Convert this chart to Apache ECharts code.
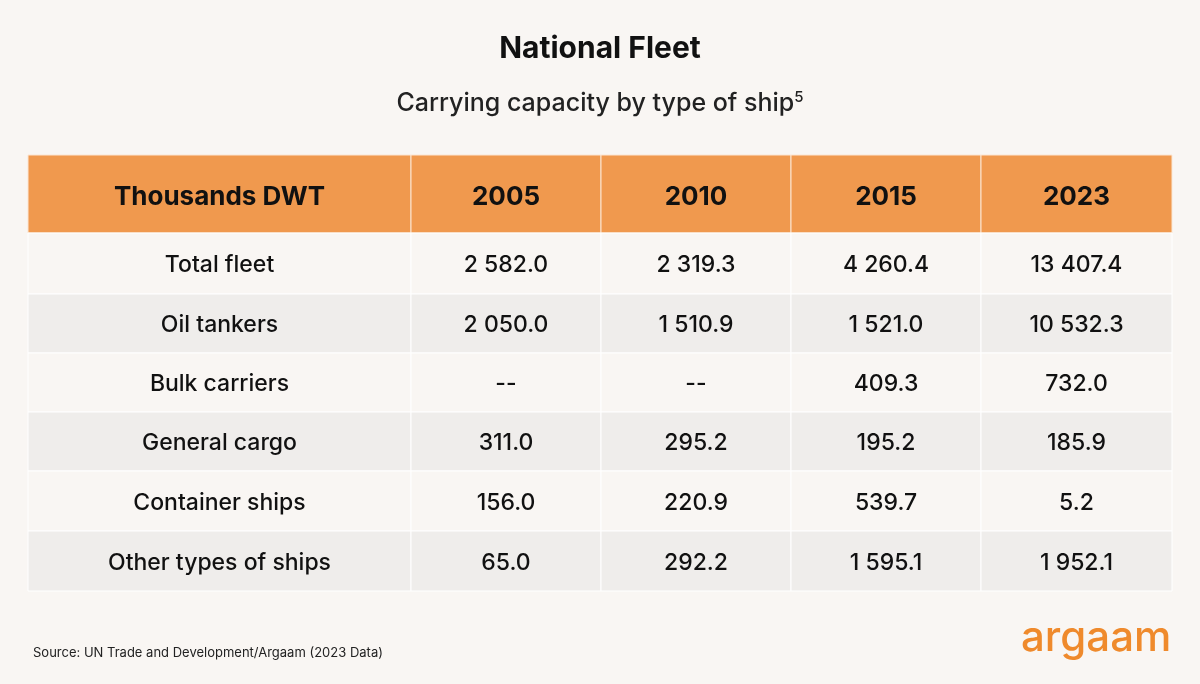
<!DOCTYPE html>
<html><head><meta charset="utf-8">
<script src="https://cdn.jsdelivr.net/npm/echarts@6/dist/echarts.min.js"></script>
<style>html,body{margin:0;background:#f9f6f3}#c{width:1200px;height:684px}</style>
</head><body><div id="c"></div>
<script>
var headers = ['Thousands DWT', '2005', '2010', '2015', '2023'];
var categories = ['Total fleet', 'Oil tankers', 'Bulk carriers', 'General cargo', 'Container ships', 'Other types of ships'];
var y2005 = ['2 582.0', '2 050.0', '--', '311.0', '156.0', '65.0'];
var y2010 = ['2 319.3', '1 510.9', '--', '295.2', '220.9', '292.2'];
var y2015 = ['4 260.4', '1 521.0', '409.3', '195.2', '539.7', '1 595.1'];
var y2023 = ['13 407.4', '10 532.3', '732.0', '185.9', '5.2', '1 952.1'];

// layout (px from table top-left)
var colEdges = [0, 383, 573, 763, 953, 1144];
var rowEdges = [0, 78, 139, 198, 257, 316, 376, 436];

var cells = [];
headers.forEach(function (h, c) { cells.push([c, 0, h]); });
var cols = [categories, y2005, y2010, y2015, y2023];
categories.forEach(function (_, r) {
  cols.forEach(function (arr, c) { cells.push([c, r + 1, arr[r]]); });
});

var chart = echarts.init(document.getElementById('c'));
chart.setOption({
  backgroundColor: '#f9f6f3',
  title: [
    {text: 'National Fleet', left: 'center', top: 29, textStyle: {fontFamily: 'Inter', fontSize: 30, fontWeight: 'bold', color: '#111'}},
    {text: 'Carrying capacity by type of ship{s|5}', left: 'center', top: 85, textStyle: {fontFamily: 'Inter', fontSize: 25, fontWeight: 500, color: '#222', rich: {s: {fontSize: 15, verticalAlign: 'top', padding: [0, 0, 12, 0], color: '#222', fontFamily: 'Inter'}}}},
    {text: 'Source: UN Trade and Development/Argaam (2023 Data)', left: 28, top: 642, textStyle: {fontFamily: 'Inter', fontSize: 13, fontWeight: 'normal', color: '#222'}},
    {text: 'argaam', left: 1016, top: 612, textStyle: {fontFamily: 'Inter', fontSize: 42, fontWeight: 500, color: '#ef8a2c'}}
  ],
  grid: {left: 28, right: 28, top: 155, bottom: 93},
  xAxis: {type: 'value', min: 0, max: 1144, show: false},
  yAxis: {type: 'value', min: 0, max: 436, inverse: true, show: false},
  series: [{
    type: 'custom',
    data: cells,
    renderItem: function (params, api) {
      var c = api.value(0), r = api.value(1);
      var d = cells[params.dataIndex];
      var p0 = api.coord([colEdges[c], rowEdges[r]]);
      var p1 = api.coord([colEdges[c + 1], rowEdges[r + 1]]);
      var fill = r === 0 ? '#f0994e' : (r % 2 === 0 ? '#efedeb' : '#f9f6f3');
      return {
        type: 'group',
        children: [
          {type: 'rect', shape: {x: p0[0], y: p0[1], width: p1[0] - p0[0], height: p1[1] - p0[1]},
           style: {fill: fill, stroke: r === 0 ? '#fbe6d3' : '#ffffff', lineWidth: 1}},
          {type: 'text', style: {
            x: (p0[0] + p1[0]) / 2, y: (p0[1] + p1[1]) / 2 + (r === 0 ? 3 : 2), text: d[2],
            align: 'center', verticalAlign: 'middle',
            font: (r === 0 ? 'bold 26px' : '500 23px') + ' Inter', fill: '#111'}}
        ]
      };
    }
  }]
});
</script></body></html>
